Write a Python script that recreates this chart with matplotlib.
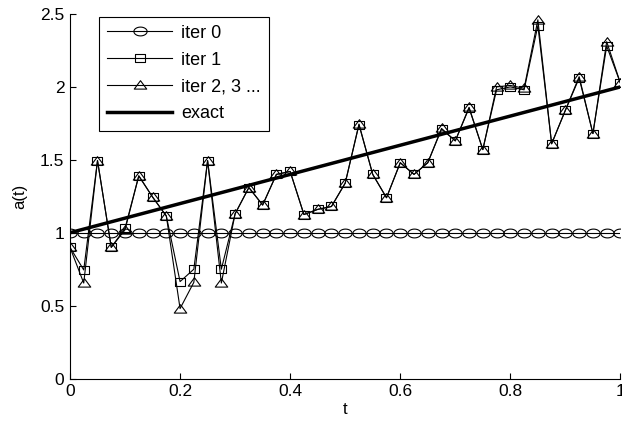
import numpy as np
import matplotlib
matplotlib.use("Agg")
import matplotlib.pyplot as plt
from matplotlib.path import Path

plt.rcParams['font.family'] = ['Liberation Sans', 'DejaVu Sans']

t = [i * 0.025 for i in range(41)]

iter0 = [1.0] * 41
iter1 = [0.90, 0.745, 1.495, 0.90, 1.03, 1.39, 1.245, 1.115, 0.665, 0.75,
         1.495, 0.75, 1.13, 1.31, 1.19, 1.40, 1.42, 1.125, 1.16, 1.18,
         1.34, 1.74, 1.40, 1.24, 1.48, 1.40, 1.48, 1.71, 1.63, 1.855,
         1.57, 1.98, 2.00, 1.98, 2.42, 1.61, 1.84, 2.06, 1.68, 2.28, 2.025]
iter2 = [0.90, 0.655, 1.495, 0.90, 1.02, 1.39, 1.245, 1.115, 0.48, 0.66,
         1.495, 0.655, 1.13, 1.31, 1.19, 1.40, 1.42, 1.125, 1.16, 1.18,
         1.34, 1.745, 1.40, 1.24, 1.48, 1.40, 1.48, 1.715, 1.63, 1.86,
         1.57, 2.00, 2.01, 1.99, 2.46, 1.61, 1.84, 2.07, 1.68, 2.31, 2.025]
exact_t = [0.0, 1.0]
exact_a = [1.0, 2.0]

# wide marker shapes
th = np.linspace(0, 2 * np.pi, 60)
ellipse = Path(np.column_stack([1.5 * np.cos(th), np.sin(th)]), closed=True)
tri = Path([(-1.3, -0.75), (1.3, -0.75), (0, 1.0), (-1.3, -0.75)], closed=True)
sq = Path([(-1.2, -1), (1.2, -1), (1.2, 1), (-1.2, 1), (-1.2, -1)], closed=True)

fig = plt.figure(figsize=(6.22, 4.23), dpi=100)
ax = fig.add_axes([0.1125, 0.105, 0.885, 0.862])

ax.plot(t, iter0, color='k', lw=0.8, marker=ellipse, ms=9.5, mfc='none', mec='k', mew=0.8, label='iter 0')
ax.plot(t, iter1, color='k', lw=0.8, marker=sq, ms=7.5, mfc='none', mec='k', mew=0.8, label='iter 1')
ax.plot(t, iter2, color='k', lw=0.8, marker=tri, ms=9, mfc='none', mec='k', mew=0.8, label='iter 2, 3 ...')
ax.plot(exact_t, exact_a, color='k', lw=2.5, label='exact')

ax.set_xlim(0, 1)
ax.set_ylim(0, 2.5)
ax.set_xticks([0, 0.2, 0.4, 0.6, 0.8, 1])
ax.set_xticklabels(['0', '0.2', '0.4', '0.6', '0.8', '1'])
ax.set_yticks([0, 0.5, 1, 1.5, 2, 2.5])
ax.set_yticklabels(['0', '0.5', '1', '1.5', '2', '2.5'])
ax.tick_params(direction='in', length=4, labelsize=12.5, width=0.8, pad=4)
ax.spines['top'].set_visible(False)
ax.spines['right'].set_visible(False)
ax.set_xlabel('t', fontsize=12, labelpad=2)
ax.set_ylabel('a(t)', fontsize=12, labelpad=9)

leg = ax.legend(loc='upper left', bbox_to_anchor=(0.053, 0.993), fontsize=13,
                handlelength=3.6, fancybox=False, edgecolor='k', framealpha=1,
                borderpad=0.45, labelspacing=0.55, handletextpad=0.5,
                borderaxespad=0)
leg.get_frame().set_linewidth(0.8)

fig.savefig('out.png', dpi=100)
